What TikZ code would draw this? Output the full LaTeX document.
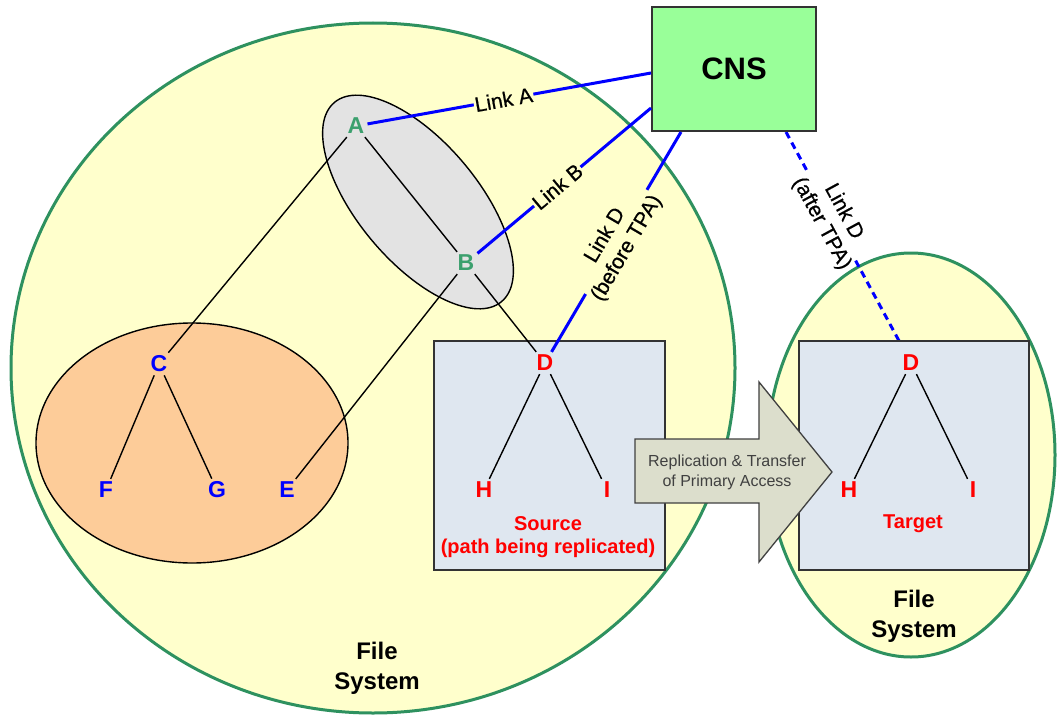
\documentclass[tikz,border=0pt]{standalone}
\usepackage{fontspec}
\setmainfont{Liberation Sans}
\newfontfamily\linkfont[FakeBold=0.6]{Liberation Sans}
\definecolor{fsgreen}{RGB}{46,145,95}
\definecolor{fsyellow}{RGB}{255,255,204}
\definecolor{grayfill}{RGB}{227,227,227}
\definecolor{peach}{RGB}{253,204,153}
\definecolor{boxfill}{RGB}{223,231,240}
\definecolor{cnsfill}{RGB}{153,255,153}
\definecolor{arrowfill}{RGB}{220,222,204}
\definecolor{nodegreen}{RGB}{60,160,110}
\definecolor{txtgray}{RGB}{64,64,64}
\pgfdeclarelayer{lzero}
\pgfdeclarelayer{lone}
\pgfdeclarelayer{ltwo}
\pgfsetlayers{lzero,lone,ltwo,main}
\begin{document}
\begin{tikzpicture}[x=1pt,y=-1pt,
  fsell/.style={draw=fsgreen, fill=fsyellow, line width=3pt},
  grpell/.style={draw=black, line width=1.4pt},
  pathbox/.style={draw=black!80, fill=boxfill, line width=2pt},
  letter/.style={font=\fontsize{23}{27}\selectfont\bfseries, inner sep=3pt},
  gl/.style={letter, text=nodegreen},
  bl/.style={letter, text=blue},
  rl/.style={letter, text=red},
  tree/.style={draw=black, line width=1.4pt},
  link/.style={draw=blue, line width=3pt},
  dlink/.style={link, dash pattern=on 7pt off 5pt},
  linklbl/.style={font=\linkfont\fontsize{21}{25}\selectfont, text=black, inner sep=1pt, align=center, sloped},
  caption/.style={font=\fontsize{20}{23}\selectfont\bfseries, text=red, align=center},
  fstext/.style={font=\fontsize{24}{30}\selectfont\bfseries, text=black, align=center}
]
\useasboundingbox (0,0) rectangle (1057,717);

\begin{pgfonlayer}{lzero}
  \fill[white] (0,0) rectangle (1057,717);
  \draw[fsell] (373,368) ellipse [x radius=362pt, y radius=345pt];
  \draw[fsell] (911,455) ellipse [x radius=144pt, y radius=202pt];
  \draw[grpell, fill=grayfill, rotate around={-50:(418,202)}] (418,202) ellipse [x radius=130pt, y radius=60pt];
  \draw[grpell, fill=peach] (192,443) ellipse [x radius=156pt, y radius=120pt];
\end{pgfonlayer}

\begin{pgfonlayer}{ltwo}
  \draw[pathbox] (434,341) rectangle (665,570);
  \draw[pathbox] (799,341) rectangle (1029,570);
\end{pgfonlayer}

% CNS
\node[draw=black!80, fill=cnsfill, line width=2pt, minimum width=164pt, minimum height=124pt,
      font=\fontsize{31}{36}\selectfont\bfseries] (CNS) at (734,69) {CNS};

% letters
\node[gl] (A) at (356,126) {A};
\node[gl] (B) at (466,263) {B};
\node[bl] (C) at (159,364) {C};
\node[bl] (F) at (106,490) {F};
\node[bl] (G) at (217,490) {G};
\node[bl] (E) at (287,490) {E};
\node[rl] (D1) at (545,363) {D};
\node[rl] (H1) at (484,490) {H};
\node[rl] (I1) at (607,490) {I};
\node[rl] (D2) at (911,363) {D};
\node[rl] (H2) at (849,490) {H};
\node[rl] (I2) at (973,490) {I};

% tree connectors
\draw[tree] (A) -- (C);
\draw[tree] (A) -- (B);
\draw[tree] (B) -- (E);
\draw[tree] (B) -- (D1);
\draw[tree] (C) -- (F);
\draw[tree] (C) -- (G);
\draw[tree] (D1) -- (H1);
\draw[tree] (D1) -- (I1);
\draw[tree] (D2) -- (H2);
\draw[tree] (D2) -- (I2);

% links
\draw[link] (A) -- node[linklbl, fill=fsyellow, pos=0.48] (la) {Link A} ([yshift=-4pt]CNS.west);
\draw[link] (B) -- node[linklbl, fill=fsyellow, pos=0.46] (lb) {Link B} ([yshift=24pt]CNS.south west);
\draw[link] ([xshift=30pt]CNS.south west) -- node[linklbl, fill=fsyellow, pos=0.50] (ld1) {Link D\\(before TPA)} (D1);

\coordinate (cnsd) at ([xshift=-31pt]CNS.south east);
\path (cnsd) -- (D2) coordinate[pos=0.19] (g1) coordinate[pos=0.39] (gm) coordinate[pos=0.585] (g2);
\begin{pgfonlayer}{lone}
  \draw[dlink] (cnsd) -- (g1);
  \draw[dlink] (g2) -- (D2);
\end{pgfonlayer}
\path (cnsd) -- node[linklbl, pos=0.39] (ld2) {Link D\\(after TPA)} (D2);

% captions
\node[caption] (src) at (548,537) {Source\\(path being replicated)};
\node[caption] (tgt) at (913,524) {Target};
\node[fstext] (fs1) at (377,668) {File\\System};
\node[fstext] (fs2) at (914,616) {File\\System};

% replication arrow
\draw[draw=black!75, fill=arrowfill, line width=1.3pt]
  (635,439) -- (759,439) -- (759,382) -- (832,472) -- (759,562) -- (759,503) -- (635,503) -- cycle;
\node[font=\fontsize{16}{20}\selectfont, text=txtgray, align=center] (rep) at (727,472)
  {Replication \& Transfer\\of Primary Access};
\end{tikzpicture}
\end{document}
